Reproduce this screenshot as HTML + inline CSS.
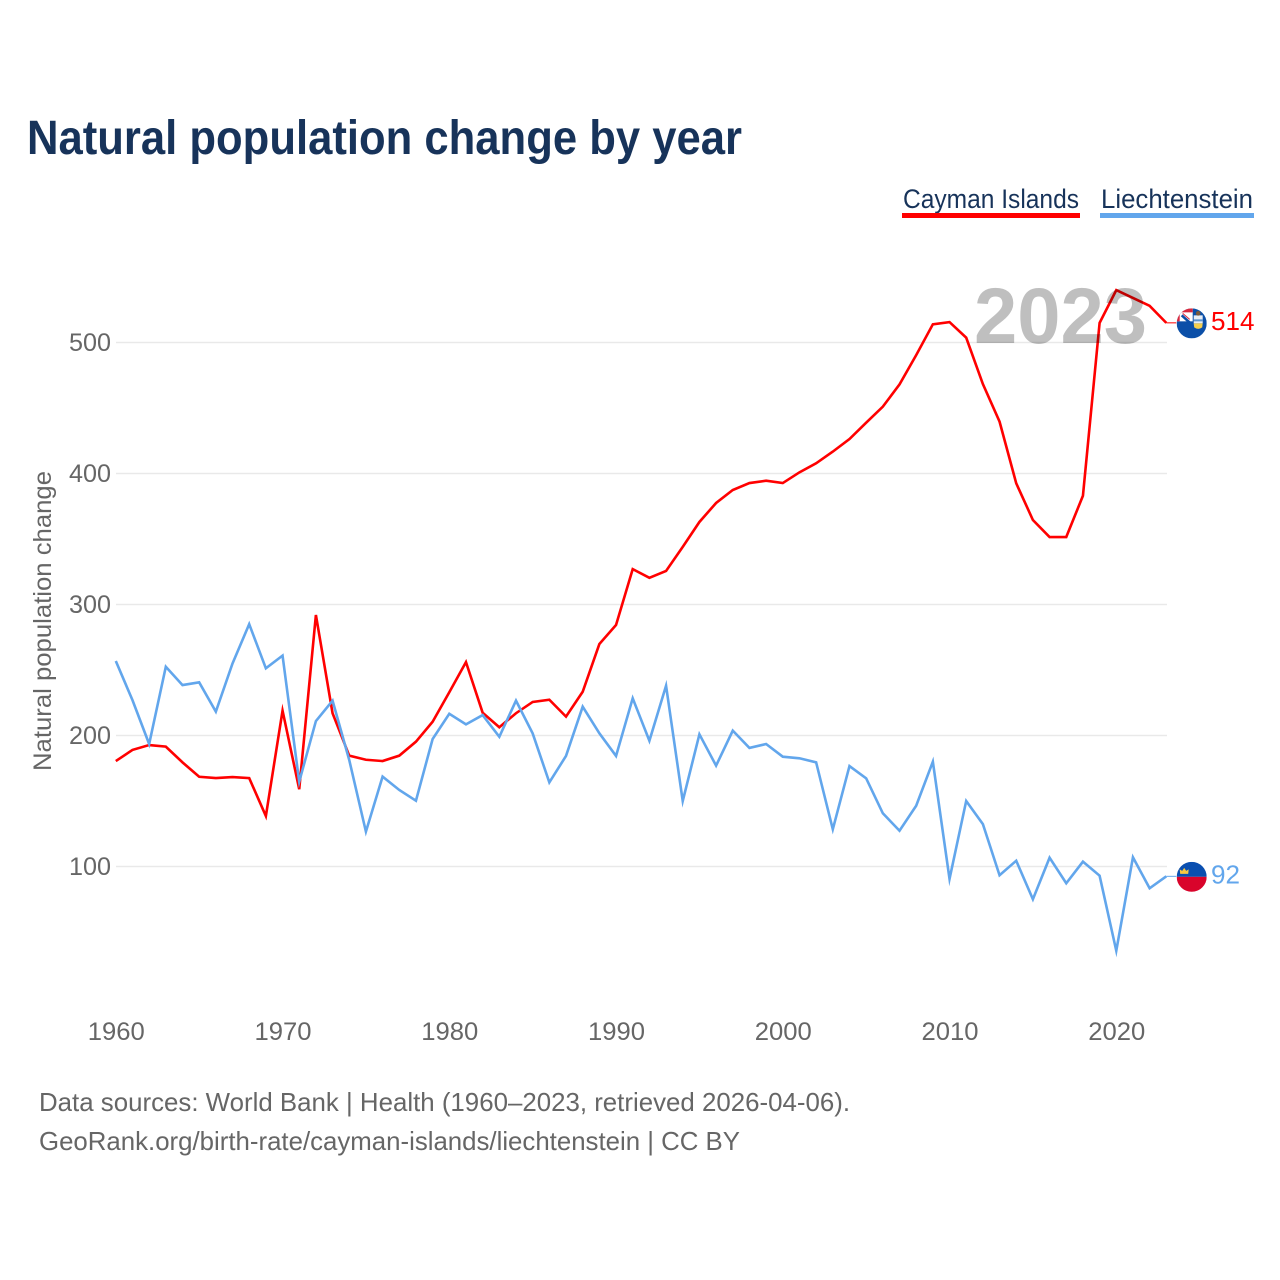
<!DOCTYPE html>
<html lang="en">
<head>
<meta charset="utf-8">
<title>Natural population change by year</title>
<style>
html,body{margin:0;padding:0;background:#fff;}
svg{display:block;font-family:"Liberation Sans",sans-serif;}
</style>
</head>
<body>
<svg id="chart" xmlns="http://www.w3.org/2000/svg" width="1280" height="1280" viewBox="0 0 1280 1280">
  <rect x="0" y="0" width="1280" height="1280" fill="#fff"/>
  <text x="27" y="154" font-size="48" font-weight="700" fill="#17335a" textLength="715" lengthAdjust="spacingAndGlyphs">Natural population change by year</text>

  <g>
    <g>
      <text x="903" y="208" font-size="27" fill="#17335a" textLength="176" lengthAdjust="spacingAndGlyphs">Cayman Islands</text>
      <rect x="902" y="213" width="178" height="5" fill="#ff0000"/>
    </g>
    <g>
      <text x="1101" y="208" font-size="27" fill="#17335a" textLength="152" lengthAdjust="spacingAndGlyphs">Liechtenstein</text>
      <rect x="1100" y="213" width="154" height="5" fill="#62a6ec"/>
    </g>
  </g>

  <g id="grid"></g>
  <g id="yticks"></g>
  <g id="xticks"></g>
  <text transform="translate(51 771) rotate(-90)" font-size="25" fill="#666" textLength="300" lengthAdjust="spacingAndGlyphs">Natural population change</text>

  <g id="series"></g>

  <text x="974" y="343" font-size="79" font-weight="700" fill="#000" fill-opacity="0.25" textLength="173" lengthAdjust="spacingAndGlyphs">2023</text>

  <defs>
    <clipPath id="flag-clip"><circle cx="0" cy="0" r="15"/></clipPath>
  </defs>

  <g id="flag-cayman" clip-path="url(#flag-clip)">
    <rect x="-15" y="-15" width="30" height="30" fill="#0b4fa8"/>
    <rect x="-15" y="-15" width="16" height="13" fill="#fff"/>
    <rect x="-15" y="-15" width="16" height="4" fill="#d8283e"/>
    <rect x="-15" y="-15" width="3" height="13" fill="#d8283e"/>
    <path d="M-10 -8 L1 2" stroke="#0b4fa8" stroke-width="2.6"/>
    <path d="M-9 -10 L-2 -4" stroke="#d8283e" stroke-width="1"/>
    <rect x="2" y="-8" width="9" height="8" fill="#e8eef5"/>
    <rect x="2" y="-4" width="9" height="2" fill="#5c94d0"/>
    <path d="M2 0 H11 L10.5 4 Q6.5 7 2.5 4 Z" fill="#f4cf4e"/>
    <circle cx="6.5" cy="-10" r="2.3" fill="#7a5a3a"/>
  </g>
  <g id="flag-liechtenstein" clip-path="url(#flag-clip)">
    <rect x="-15" y="-15" width="30" height="15" fill="#0a4fb0"/>
    <rect x="-15" y="0" width="30" height="15" fill="#d9042b"/>
    <path d="M-11.5 -3 L-12 -7.5 L-9.5 -6 L-7.5 -9 L-5.5 -6 L-3 -7.5 L-3.5 -3 Z" fill="#f5c842"/>
  </g>

  <g id="end-labels"></g>

  <text x="39" y="1111" font-size="26" fill="#666" textLength="811" lengthAdjust="spacingAndGlyphs">Data sources: World Bank | Health (1960–2023, retrieved 2026-04-06).</text>
  <text x="39" y="1150" font-size="26" fill="#666" textLength="701" lengthAdjust="spacingAndGlyphs">GeoRank.org/birth-rate/cayman-islands/liechtenstein | CC BY</text>
</svg>

<script>
const startYear = 1960;
const xTickYears = [1960, 1970, 1980, 1990, 2000, 2010, 2020];
const yTickValues = [100, 200, 300, 400, 500];
const caymanValues = [180.5, 189, 192.7, 191.5, 179.5, 168.5, 167.5, 168.3, 167.5, 138.5,
  219, 159, 292, 217, 184.6, 181.5, 180.5, 184.6, 195.3, 210.5,
  233, 256, 217.4, 206.3, 217, 225.6, 227.3, 214.4, 233.4, 269.8,
  284.4, 327, 320.4, 325.6, 344, 363, 377.5, 387.4, 392.7, 394.5,
  392.7, 400.9, 407.8, 416.7, 426.3, 438.8, 451, 468, 490.4, 513.9,
  515.6, 503.7, 468.3, 439.6, 392.5, 364.5, 351.5, 351.5, 383, 515,
  540, 534, 528, 515];
const liechtensteinValues = [256.9, 227, 193.5, 252.5, 238.5, 240.6, 218.2, 255, 285, 251.3,
  261, 164.7, 211, 226.6, 181.3, 126.6, 168.6, 158.4, 150.2, 197.3,
  216.6, 208.5, 215.6, 199, 226.6, 201.6, 164.2, 184.4, 222, 201.7,
  184.4, 228.4, 196, 238, 150, 200.9, 177, 203.7, 190.5, 193.5,
  183.8, 182.6, 179.5, 128.4, 176.7, 167.3, 140.6, 127.3, 146.4, 180,
  90.5, 150, 132.4, 93.3, 104.4, 75, 106.7, 87.2, 103.7, 93,
  35.7, 107, 83.4, 92.5];
const endLabels = ['514', '92'];

const NS = 'http://www.w3.org/2000/svg';
function xScale(year) { return 115.8 + (year - startYear) * (1050.5 / 63); }
function yScale(value) { return 997.5 - value * 1.31; }
function pointsFor(values) {
  return values.map(function (v, i) {
    return xScale(startYear + i).toFixed(2) + ',' + yScale(v).toFixed(2);
  }).join(' ');
}
function make(tag, attrs, parent) {
  const el = document.createElementNS(NS, tag);
  Object.keys(attrs).forEach(function (k) { el.setAttribute(k, attrs[k]); });
  parent.appendChild(el);
  return el;
}

const grid = document.getElementById('grid');
const yticks = document.getElementById('yticks');
const xticks = document.getElementById('xticks');
const series = document.getElementById('series');
const labels = document.getElementById('end-labels');

yTickValues.forEach(function (v) {
  const line = make('line', { x1: 116, x2: 1167, y1: yScale(v), y2: yScale(v), stroke: '#e9e9e9', 'stroke-width': 1.4 }, grid);
  
  
  const t = make('text', { x: 111, y: yScale(v) + 8.5, 'font-size': 25, fill: '#666', 'text-anchor': 'end' }, yticks);
  t.textContent = String(v);
  t.setAttribute('textLength', String(v).length * 14);
  t.setAttribute('lengthAdjust', 'spacingAndGlyphs');
  
  
});

xTickYears.forEach(function (yr) {
  const t = make('text', { x: xScale(yr) + 0.5, y: 1040, 'font-size': 25, fill: '#666', 'text-anchor': 'middle' }, xticks);
  t.textContent = String(yr);
  t.setAttribute('textLength', 57);
  t.setAttribute('lengthAdjust', 'spacingAndGlyphs');
  
  
});

function drawSeries(values, color, key, flagId, labelText) {
  const lastX = xScale(startYear + values.length - 1);
  const lastY = yScale(values[values.length - 1]);
  const line = make('polyline', { points: pointsFor(values), fill: 'none', stroke: color, 'stroke-width': 2.6, 'stroke-linejoin': 'miter', 'stroke-miterlimit': 6 }, series);
  
  
  const lead = make('line', { x1: lastX, x2: lastX + 10, y1: lastY, y2: lastY, stroke: color, 'stroke-width': 1 }, series);
  
  
  document.getElementById(flagId).setAttribute('transform', 'translate(' + (lastX + 25.4) + ' ' + (lastY + 0.5) + ')');
  const t = make('text', { x: lastX + 44.7, y: lastY + 7, 'font-size': 26, fill: color }, labels);
  t.textContent = labelText;
  t.setAttribute('textLength', labelText.length * 14.5);
  t.setAttribute('lengthAdjust', 'spacingAndGlyphs');
  
  
}

drawSeries(caymanValues, '#ff0000', 'cayman-islands', 'flag-cayman', endLabels[0]);
drawSeries(liechtensteinValues, '#62a6ec', 'liechtenstein', 'flag-liechtenstein', endLabels[1]);
</script>
</body>
</html>
